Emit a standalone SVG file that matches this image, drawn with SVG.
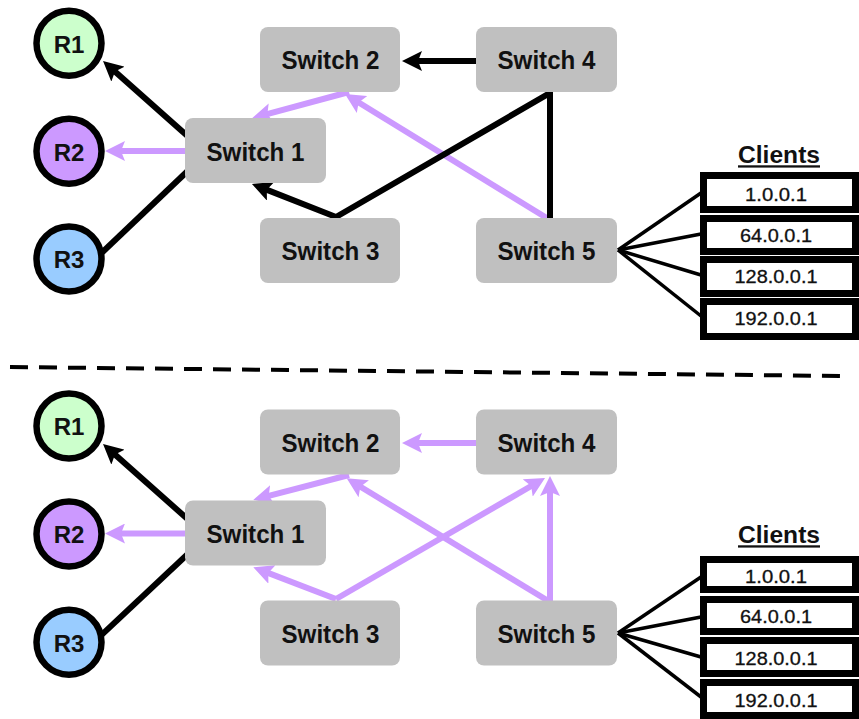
<svg xmlns="http://www.w3.org/2000/svg" width="859" height="719" viewBox="0 0 859 719">
<style>
.sw{fill:#c0c0c0}
.swt{font-family:"Liberation Sans",Arial,sans-serif;font-weight:bold;font-size:26px;fill:#111;text-anchor:middle}
.rt{font-family:"Liberation Sans",Arial,sans-serif;font-weight:bold;font-size:24px;fill:#111;text-anchor:middle}
.rc{stroke:#000;stroke-width:6.5}
.blk{stroke:#000;stroke-width:6;fill:none}
.pur{stroke:#cc99ff;stroke-width:6;fill:none}
.cl{stroke:#000;stroke-width:3.5;fill:none}
.box{fill:#fff;stroke:#000;stroke-width:7}
.ip{font-family:"Liberation Sans",Arial,sans-serif;font-size:18px;fill:#111;text-anchor:middle;stroke:#111;stroke-width:0.3}
.ct{font-family:"Liberation Sans",Arial,sans-serif;font-weight:bold;font-size:23px;fill:#111;text-anchor:middle;text-decoration:underline}
</style>
<defs>
<marker id="ab" markerUnits="userSpaceOnUse" markerWidth="20" markerHeight="20" viewBox="0 0 20 20" refX="12" refY="10" orient="auto"><path d="M0,0 L20,10 L0,20 L4,10 z" fill="#000"/></marker>
<marker id="ap" markerUnits="userSpaceOnUse" markerWidth="20" markerHeight="20" viewBox="0 0 20 20" refX="12" refY="10" orient="auto"><path d="M0,0 L20,10 L0,20 L4,10 z" fill="#cc99ff"/></marker>
</defs>
<g id="connectors">
<line class="pur" x1="200" y1="151" x2="113" y2="151" marker-end="url(#ap)"/>
<line class="pur" x1="349" y1="92" x2="259.7" y2="116.2" marker-end="url(#ap)"/>
<line class="pur" x1="550" y1="220" x2="351.8" y2="98.2" marker-end="url(#ap)"/>
<line class="blk" x1="192" y1="140" x2="109" y2="66.2" marker-end="url(#ab)"/>
<line class="blk" x1="100" y1="254.5" x2="195" y2="164"/>
<polyline class="blk" stroke-linejoin="miter" points="550,220 550,93 336,217 259.4,186.9" marker-end="url(#ab)"/>
<line class="blk" x1="480" y1="61" x2="410" y2="61" marker-end="url(#ab)"/>
<line class="cl" x1="618" y1="250" x2="701" y2="193"/>
<line class="cl" x1="618" y1="250" x2="701" y2="234"/>
<line class="cl" x1="618" y1="250" x2="701" y2="275"/>
<line class="cl" x1="618" y1="250" x2="701" y2="316"/>
<line x1="10" y1="367" x2="843" y2="376" stroke="#000" stroke-width="4" stroke-dasharray="18 11"/>
<line class="pur" x1="200" y1="533.5" x2="113" y2="533.5" marker-end="url(#ap)"/>
<line class="pur" x1="349" y1="475" x2="261" y2="497.9" marker-end="url(#ap)"/>
<line class="pur" x1="550" y1="602" x2="353.5" y2="482.5" marker-end="url(#ap)"/>
<line class="pur" x1="336" y1="599" x2="260.8" y2="570.1" marker-end="url(#ap)"/>
<line class="pur" x1="336" y1="599" x2="538.1" y2="482" marker-end="url(#ap)"/>
<line class="pur" x1="550" y1="602" x2="550" y2="484" marker-end="url(#ap)"/>
<line class="pur" x1="480" y1="443" x2="410" y2="443" marker-end="url(#ap)"/>
<line class="blk" x1="192" y1="523" x2="109" y2="449.2" marker-end="url(#ab)"/>
<line class="blk" x1="100" y1="636.4" x2="195" y2="547.3"/>
<line class="cl" x1="618" y1="633" x2="701" y2="577"/>
<line class="cl" x1="618" y1="633" x2="701" y2="617"/>
<line class="cl" x1="618" y1="633" x2="701" y2="657"/>
<line class="cl" x1="618" y1="633" x2="701" y2="697"/>
</g>
<g id="r1-top"><circle class="rc" cx="69" cy="43.3" r="32.5" fill="#ccffcc"/><text class="rt" x="69" y="52.7">R1</text></g>
<g id="r2-top"><circle class="rc" cx="69" cy="151.3" r="32.5" fill="#cc99ff"/><text class="rt" x="69" y="160.7">R2</text></g>
<g id="r3-top"><circle class="rc" cx="69" cy="259" r="32.5" fill="#99ccff"/><text class="rt" x="69" y="268.4">R3</text></g>
<g id="switch1-top"><rect class="sw" x="185" y="118" width="141" height="65" rx="8"/><text class="swt" x="255.5" y="160.5" textLength="98" lengthAdjust="spacingAndGlyphs">Switch 1</text></g>
<g id="switch2-top"><rect class="sw" x="260" y="27" width="140" height="65" rx="8"/><text class="swt" x="330.5" y="69" textLength="98" lengthAdjust="spacingAndGlyphs">Switch 2</text></g>
<g id="switch3-top"><rect class="sw" x="260" y="218" width="140" height="65" rx="8"/><text class="swt" x="330.5" y="260" textLength="98" lengthAdjust="spacingAndGlyphs">Switch 3</text></g>
<g id="switch4-top"><rect class="sw" x="476" y="27" width="141" height="65" rx="8"/><text class="swt" x="546.5" y="69" textLength="98" lengthAdjust="spacingAndGlyphs">Switch 4</text></g>
<g id="switch5-top"><rect class="sw" x="476" y="218" width="141" height="65" rx="8"/><text class="swt" x="546.5" y="260" textLength="98" lengthAdjust="spacingAndGlyphs">Switch 5</text></g>
<g id="clients-top">
<text class="ct" x="779" y="163.3" textLength="82" lengthAdjust="spacingAndGlyphs">Clients</text>
<rect class="box" x="703.5" y="175.5" width="152" height="34"/><text class="ip" x="776" y="200.7" textLength="62" lengthAdjust="spacingAndGlyphs">1.0.0.1</text>
<rect class="box" x="703.5" y="218.5" width="152" height="33"/><text class="ip" x="776" y="241.7" textLength="72" lengthAdjust="spacingAndGlyphs">64.0.0.1</text>
<rect class="box" x="703.5" y="259.5" width="152" height="34"/><text class="ip" x="776" y="283.3" textLength="83" lengthAdjust="spacingAndGlyphs">128.0.0.1</text>
<rect class="box" x="703.5" y="301.5" width="152" height="35"/><text class="ip" x="776" y="325" textLength="83" lengthAdjust="spacingAndGlyphs">192.0.0.1</text>
</g>
<g id="r1-bottom"><circle class="rc" cx="69" cy="426" r="32.5" fill="#ccffcc"/><text class="rt" x="69" y="435.4">R1</text></g>
<g id="r2-bottom"><circle class="rc" cx="69" cy="534" r="32.5" fill="#cc99ff"/><text class="rt" x="69" y="543.4">R2</text></g>
<g id="r3-bottom"><circle class="rc" cx="69" cy="642.3" r="32.5" fill="#99ccff"/><text class="rt" x="69" y="651.7">R3</text></g>
<g id="switch1-bottom"><rect class="sw" x="185" y="500.5" width="141" height="65" rx="8"/><text class="swt" x="255.5" y="543" textLength="98" lengthAdjust="spacingAndGlyphs">Switch 1</text></g>
<g id="switch2-bottom"><rect class="sw" x="260" y="409.5" width="140" height="65" rx="8"/><text class="swt" x="330.5" y="451.5" textLength="98" lengthAdjust="spacingAndGlyphs">Switch 2</text></g>
<g id="switch3-bottom"><rect class="sw" x="260" y="600.5" width="140" height="65" rx="8"/><text class="swt" x="330.5" y="642.5" textLength="98" lengthAdjust="spacingAndGlyphs">Switch 3</text></g>
<g id="switch4-bottom"><rect class="sw" x="476" y="409.5" width="141" height="65" rx="8"/><text class="swt" x="546.5" y="451.5" textLength="98" lengthAdjust="spacingAndGlyphs">Switch 4</text></g>
<g id="switch5-bottom"><rect class="sw" x="476" y="600.5" width="141" height="65" rx="8"/><text class="swt" x="546.5" y="642.5" textLength="98" lengthAdjust="spacingAndGlyphs">Switch 5</text></g>
<g id="clients-bottom">
<text class="ct" x="779" y="543.3" textLength="82" lengthAdjust="spacingAndGlyphs">Clients</text>
<rect class="box" x="703.5" y="559.5" width="152" height="30"/><text class="ip" x="776" y="583" textLength="62" lengthAdjust="spacingAndGlyphs">1.0.0.1</text>
<rect class="box" x="703.5" y="599.5" width="152" height="32"/><text class="ip" x="776" y="623" textLength="72" lengthAdjust="spacingAndGlyphs">64.0.0.1</text>
<rect class="box" x="703.5" y="640.5" width="152" height="33"/><text class="ip" x="776" y="665" textLength="83" lengthAdjust="spacingAndGlyphs">128.0.0.1</text>
<rect class="box" x="703.5" y="682.5" width="152" height="33"/><text class="ip" x="776" y="706.7" textLength="83" lengthAdjust="spacingAndGlyphs">192.0.0.1</text>
</g>
</svg>
